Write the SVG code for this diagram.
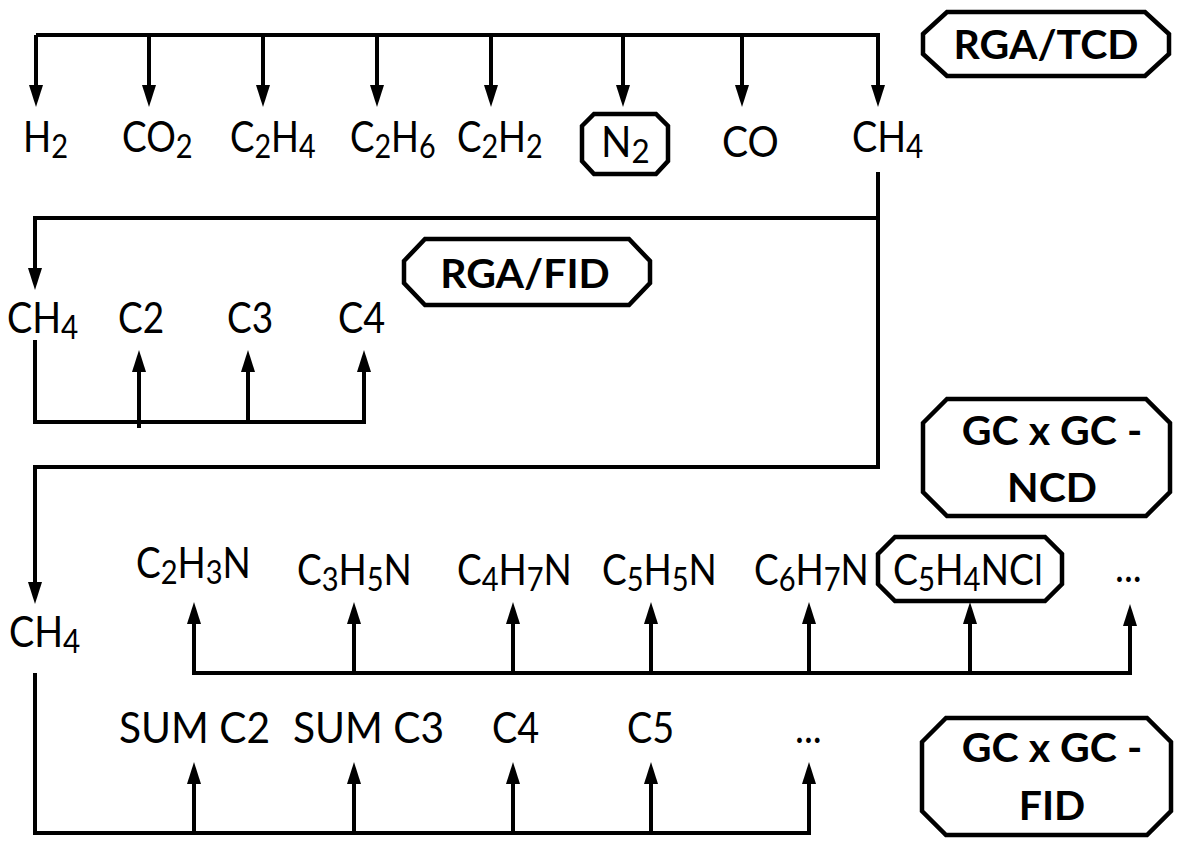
<svg xmlns="http://www.w3.org/2000/svg" width="1200" height="854" viewBox="0 0 1200 854">
<style>
.t{font-family:Lato,"Liberation Sans",sans-serif;font-size:42px;fill:#000}
.s{font-size:33px}
.b{font-family:Lato,"Liberation Sans",sans-serif;font-size:41px;font-weight:bold;fill:#000;text-anchor:middle}
.ln{fill:none;stroke:#000;stroke-width:4;stroke-linejoin:miter}
.ar{fill:none;stroke:#000;stroke-width:4;marker-end:url(#ah)}
.bx{fill:#fff;stroke:#000;stroke-width:4.5;stroke-linejoin:miter}
</style>
<defs>
<marker id="ah" markerUnits="userSpaceOnUse" markerWidth="24" markerHeight="16" refX="10" refY="7" orient="auto">
<path d="M0,0 L22,7 L0,14 z" fill="#000"/>
</marker>
</defs>
<rect width="1200" height="854" fill="#fff"/>
<g id="connectors">
<path class="ln" d="M36,35 H878"/>
<path class="ar" d="M36,35 V95"/>
<path class="ar" d="M149,35 V95"/>
<path class="ar" d="M263,35 V95"/>
<path class="ar" d="M377,35 V95"/>
<path class="ar" d="M491,35 V95"/>
<path class="ar" d="M623,35 V95"/>
<path class="ar" d="M742,35 V95"/>
<path class="ar" d="M878,33 V95"/>
<path class="ln" d="M878,172 V467 H35"/>
<path class="ln" d="M878,218 H35"/>
<path class="ar" d="M35,216 V278"/>
<path class="ln" d="M35,340 V422 H366"/>
<path class="ar" d="M139,428 V362"/>
<path class="ar" d="M248,422 V362"/>
<path class="ar" d="M364,424 V362"/>
<path class="ar" d="M35,465 V592"/>
<path class="ln" d="M194,673 H1132"/>
<path class="ar" d="M194,675 V614"/>
<path class="ar" d="M354,673 V614"/>
<path class="ar" d="M513,673 V614"/>
<path class="ar" d="M651,673 V614"/>
<path class="ar" d="M809,673 V614"/>
<path class="ar" d="M970,673 V614"/>
<path class="ar" d="M1130,675 V616"/>
<path class="ln" d="M35,673 V833 H811"/>
<path class="ar" d="M194,833 V774"/>
<path class="ar" d="M354,833 V774"/>
<path class="ar" d="M513,833 V774"/>
<path class="ar" d="M651,833 V774"/>
<path class="ar" d="M809,835 V774"/>
</g>
<g id="rga-tcd">
<polygon class="bx" points="923,34 947,12 1145,12 1169,34 1169,54 1145,76 947,76 923,54"/>
<text class="b" x="1046" y="59">RGA/TCD</text>
</g>
<g id="h2"><text class="t" transform="matrix(0.88,0,0,1,23,152)">H<tspan class="s" dy="6">2</tspan></text></g>
<g id="co2"><text class="t" transform="matrix(0.88,0,0,1,122,152)">CO<tspan class="s" dy="6">2</tspan></text></g>
<g id="c2h4"><text class="t" transform="matrix(0.87,0,0,1,230,152)">C<tspan class="s" dy="6">2</tspan><tspan dy="-6">H</tspan><tspan class="s" dy="6">4</tspan></text></g>
<g id="c2h6"><text class="t" transform="matrix(0.87,0,0,1,350,152)">C<tspan class="s" dy="6">2</tspan><tspan dy="-6">H</tspan><tspan class="s" dy="6">6</tspan></text></g>
<g id="c2h2"><text class="t" transform="matrix(0.87,0,0,1,457,152)">C<tspan class="s" dy="6">2</tspan><tspan dy="-6">H</tspan><tspan class="s" dy="6">2</tspan></text></g>
<g id="n2">
<polygon class="bx" points="582,126 594,114 656,114 668,126 668,161 656,174 594,174 582,161"/>
<text class="t" transform="matrix(0.95,0,0,1,601,157)">N<tspan class="s" dy="6">2</tspan></text>
</g>
<g id="co"><text class="t" transform="matrix(0.93,0,0,1,722,157)">CO</text></g>
<g id="ch4-top"><text class="t" transform="matrix(0.9,0,0,1,852,152)">CH<tspan class="s" dy="6">4</tspan></text></g>
<g id="rga-fid">
<polygon class="bx" points="404,261 425,239 629,239 650,261 650,283 629,305 425,305 404,283"/>
<text class="b" x="525" y="288">RGA/FID</text>
</g>
<g id="ch4-fid"><text class="t" transform="matrix(0.9,0,0,1,7,333)">CH<tspan class="s" dy="6">4</tspan></text></g>
<g id="c2"><text class="t" transform="matrix(0.88,0,0,1,118,333)">C2</text></g>
<g id="c3"><text class="t" transform="matrix(0.88,0,0,1,227,333)">C3</text></g>
<g id="c4"><text class="t" transform="matrix(0.9,0,0,1,338,333)">C4</text></g>
<g id="gc-ncd">
<polygon class="bx" points="923,423 947,399 1146,399 1170,423 1170,492 1146,516 947,516 923,492"/>
<text class="b" x="1052" y="445">GC x GC -</text>
<text class="b" x="1052" y="502">NCD</text>
</g>
<g id="ch4-gc"><text class="t" transform="matrix(0.9,0,0,1,9,647)">CH<tspan class="s" dy="6">4</tspan></text></g>
<g id="c2h3n"><text class="t" transform="matrix(0.88,0,0,1,136,578)">C<tspan class="s" dy="6">2</tspan><tspan dy="-6">H</tspan><tspan class="s" dy="6">3</tspan><tspan dy="-6">N</tspan></text></g>
<g id="c3h5n"><text class="t" transform="matrix(0.88,0,0,1,297,585)">C<tspan class="s" dy="6">3</tspan><tspan dy="-6">H</tspan><tspan class="s" dy="6">5</tspan><tspan dy="-6">N</tspan></text></g>
<g id="c4h7n"><text class="t" transform="matrix(0.88,0,0,1,457,585)">C<tspan class="s" dy="6">4</tspan><tspan dy="-6">H</tspan><tspan class="s" dy="6">7</tspan><tspan dy="-6">N</tspan></text></g>
<g id="c5h5n"><text class="t" transform="matrix(0.88,0,0,1,602,585)">C<tspan class="s" dy="6">5</tspan><tspan dy="-6">H</tspan><tspan class="s" dy="6">5</tspan><tspan dy="-6">N</tspan></text></g>
<g id="c6h7n"><text class="t" transform="matrix(0.88,0,0,1,754,585)">C<tspan class="s" dy="6">6</tspan><tspan dy="-6">H</tspan><tspan class="s" dy="6">7</tspan><tspan dy="-6">N</tspan></text></g>
<g id="c5h4ncl">
<polygon class="bx" points="878,554 895,537 1045,537 1062,554 1062,584 1045,601 895,601 878,584"/>
<text class="t" transform="matrix(0.89,0,0,1,893,585)">C<tspan class="s" dy="6">5</tspan><tspan dy="-6">H</tspan><tspan class="s" dy="6">4</tspan><tspan dy="-6">NCl</tspan></text>
</g>
<g id="dots-ncd"><text class="t" transform="matrix(0.9,0,0,1,1115,582)">...</text></g>
<g id="sum-c2"><text class="t" transform="matrix(0.97,0,0,1,119,743)">SUM C2</text></g>
<g id="sum-c3"><text class="t" transform="matrix(0.97,0,0,1,293,743)">SUM C3</text></g>
<g id="c4-gc"><text class="t" transform="matrix(0.9,0,0,1,492,743)">C4</text></g>
<g id="c5-gc"><text class="t" transform="matrix(0.9,0,0,1,627,743)">C5</text></g>
<g id="dots-fid"><text class="t" transform="matrix(0.9,0,0,1,795,743)">...</text></g>
<g id="gc-fid">
<polygon class="bx" points="922,742 946,718 1147,718 1171,742 1171,811 1147,835 946,835 922,811"/>
<text class="b" x="1052" y="762">GC x GC -</text>
<text class="b" x="1052" y="820">FID</text>
</g>
</svg>
